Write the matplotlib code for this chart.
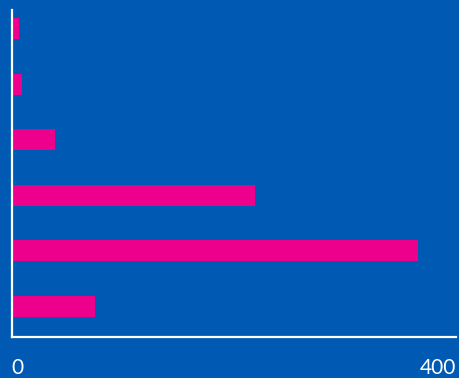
import matplotlib.pyplot as plt

# данные
categories = ['A', 'B', 'C', 'D', 'E', 'F']
values = [7, 9, 39.5, 219, 366, 75.5]
xTicks = [0, 400]
xTickLabels = ['0', '400']

bgColor = '#0059b2'
barColor = '#ec008c'

fig = plt.figure(figsize=(4.6, 3.78), dpi=100)
fig.patch.set_facecolor(bgColor)
ax = fig.add_axes([11.5 / 460, 41 / 378, 444.5 / 460, 327 / 378])
ax.set_facecolor(bgColor)

positions = list(range(len(categories)))
ax.barh(positions, values, height=0.38, color=barColor)
ax.set_ylim(5.55, -0.34)
ax.set_xlim(0, 400)

# оси
for side in ['top', 'right']:
    ax.spines[side].set_visible(False)
for side in ['left', 'bottom']:
    ax.spines[side].set_color('white')
    ax.spines[side].set_linewidth(1.6)

ax.set_yticks([])
ax.set_xticks(xTicks)
ax.set_xticklabels(xTickLabels, color='white', fontsize=15, family='Lato')
ax.tick_params(axis='x', length=0, pad=15)
labels = ax.get_xticklabels()
labels[0].set_horizontalalignment('left')
labels[-1].set_horizontalalignment('right')

fig.savefig('out.png', dpi=100, facecolor=bgColor)
